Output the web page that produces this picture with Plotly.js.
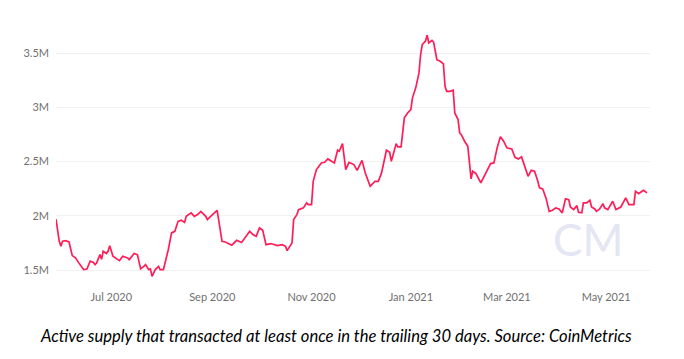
<!DOCTYPE html>
<html>
<head>
<meta charset="utf-8">
<script src="https://cdn.plot.ly/plotly-3.0.1.min.js"></script>
<style>
  html, body { margin: 0; padding: 0; background: #ffffff; }
  #chart { width: 684px; height: 359px; }
</style>
</head>
<body>
<div id="chart"></div>
<script>
// Dates (daily samples)
const dates = [
  "2020-05-28","2020-05-30","2020-05-31","2020-06-01","2020-06-03","2020-06-05","2020-06-07","2020-06-09","2020-06-11","2020-06-14",
  "2020-06-16","2020-06-18","2020-06-20","2020-06-21","2020-06-22","2020-06-24","2020-06-25","2020-06-26","2020-06-28","2020-06-29",
  "2020-06-30","2020-07-02","2020-07-05","2020-07-06","2020-07-08","2020-07-11","2020-07-12","2020-07-15","2020-07-17","2020-07-19",
  "2020-07-21","2020-07-22","2020-07-24","2020-07-25","2020-07-26","2020-07-28","2020-07-30","2020-07-31","2020-08-02","2020-08-04",
  "2020-08-05","2020-08-07","2020-08-09","2020-08-11","2020-08-13","2020-08-15","2020-08-16","2020-08-19","2020-08-21","2020-08-23",
  "2020-08-25","2020-08-28","2020-08-29","2020-08-31","2020-09-02","2020-09-04","2020-09-07","2020-09-09","2020-09-13","2020-09-16",
  "2020-09-19","2020-09-24","2020-09-26","2020-09-28","2020-09-30","2020-10-02","2020-10-04","2020-10-07","2020-10-11","2020-10-14",
  "2020-10-16","2020-10-17","2020-10-20","2020-10-21","2020-10-23","2020-10-24","2020-10-27","2020-10-29","2020-10-30","2020-11-01",
  "2020-11-02","2020-11-04","2020-11-07","2020-11-09","2020-11-11","2020-11-13","2020-11-15","2020-11-17","2020-11-18","2020-11-20",
  "2020-11-22","2020-11-24","2020-11-27","2020-11-29","2020-12-02","2020-12-04","2020-12-07","2020-12-08","2020-12-10","2020-12-12",
  "2020-12-14","2020-12-17","2020-12-19","2020-12-20","2020-12-23","2020-12-24","2020-12-26","2020-12-28","2020-12-30","2021-01-01",
  "2021-01-02","2021-01-04","2021-01-06","2021-01-07","2021-01-08","2021-01-10","2021-01-11","2021-01-12","2021-01-14","2021-01-15",
  "2021-01-17","2021-01-19","2021-01-21","2021-01-22","2021-01-23","2021-01-25","2021-01-27","2021-01-28","2021-01-30","2021-01-31",
  "2021-02-01","2021-02-03","2021-02-05","2021-02-07","2021-02-08","2021-02-10","2021-02-11","2021-02-13","2021-02-15","2021-02-17",
  "2021-02-19","2021-02-21","2021-02-23","2021-02-25","2021-02-27","2021-03-01","2021-03-04","2021-03-06","2021-03-08","2021-03-10",
  "2021-03-12","2021-03-14","2021-03-16","2021-03-18","2021-03-20","2021-03-21","2021-03-23","2021-03-25","2021-03-27","2021-03-29",
  "2021-03-31","2021-04-02","2021-04-04","2021-04-06","2021-04-08","2021-04-09","2021-04-11","2021-04-13","2021-04-14","2021-04-16",
  "2021-04-17","2021-04-19","2021-04-21","2021-04-22","2021-04-24","2021-04-25","2021-04-27","2021-04-29","2021-04-30","2021-05-02",
  "2021-05-05","2021-05-07","2021-05-10","2021-05-13","2021-05-15","2021-05-18","2021-05-19","2021-05-21","2021-05-23","2021-05-24",
  "2021-05-26"
];

// Active supply (millions of BTC)
const activeSupplyM = [
  1.970,1.766,1.720,1.766,1.772,1.760,1.634,1.613,1.567,1.505,
  1.510,1.583,1.570,1.550,1.567,1.643,1.600,1.674,1.653,1.674,
  1.726,1.628,1.597,1.588,1.628,1.613,1.597,1.653,1.643,1.512,
  1.535,1.551,1.505,1.512,1.443,1.505,1.535,1.505,1.505,1.613,
  1.690,1.843,1.858,1.950,1.960,1.940,1.996,2.028,1.996,2.012,
  2.042,1.996,1.966,1.996,2.028,2.050,1.766,1.760,1.730,1.775,
  1.755,1.858,1.828,1.812,1.889,1.867,1.735,1.745,1.726,1.735,
  1.720,1.680,1.751,1.966,2.012,2.058,2.074,2.120,2.104,2.104,
  2.319,2.427,2.488,2.494,2.525,2.503,2.488,2.605,2.595,2.666,
  2.427,2.494,2.473,2.420,2.512,2.396,2.273,2.288,2.319,2.319,
  2.396,2.605,2.586,2.503,2.666,2.636,2.636,2.903,2.949,2.980,
  3.088,3.180,3.318,3.487,3.579,3.610,3.665,3.594,3.618,3.600,
  3.440,3.425,3.401,3.195,3.148,3.148,3.158,2.949,2.888,2.765,
  2.749,2.688,2.641,2.341,2.411,2.390,2.365,2.304,2.365,2.427,
  2.482,2.488,2.627,2.730,2.688,2.627,2.617,2.540,2.525,2.544,
  2.457,2.365,2.420,2.411,2.319,2.258,2.249,2.166,2.042,2.052,
  2.074,2.064,2.028,2.157,2.150,2.082,2.058,2.095,2.033,2.028,
  2.120,2.120,2.144,2.082,2.064,2.042,2.064,2.113,2.074,2.058,
  2.135,2.058,2.082,2.166,2.104,2.104,2.227,2.205,2.227,2.236,
  2.212
];

const yTickVals = [1.5, 2, 2.5, 3, 3.5];
const yTickText = ["1.5M", "2M", "2.5M", "3M", "3.5M"];
const xTickVals = ["2020-07-01", "2020-09-01", "2020-11-01", "2021-01-01", "2021-03-01", "2021-05-01"];
const xTickText = ["Jul 2020", "Sep 2020", "Nov 2020", "Jan 2021", "Mar 2021", "May 2021"];
const captionText = "Active supply that transacted at least once in the trailing 30 days. Source: CoinMetrics";
const watermarkText = "CM";

const trace = {
  x: dates,
  y: activeSupplyM,
  type: "scatter",
  mode: "lines",
  line: { color: "#ff1d58", width: 1.7 },
  hoverinfo: "skip"
};

const tickFont = { family: "Lato, 'Open Sans', sans-serif", size: 11, color: "#707070" };

const layout = {
  width: 684,
  height: 359,
  margin: { l: 56, r: 34, t: 26, b: 78 },
  paper_bgcolor: "#ffffff",
  plot_bgcolor: "#ffffff",
  showlegend: false,
  xaxis: {
    type: "date",
    range: ["2020-05-28", "2021-05-27 22:00"],
    tickmode: "array",
    tickvals: xTickVals,
    ticktext: xTickText,
    showgrid: false,
    zeroline: false,
    showline: false,
    ticks: "",
    ticklabelstandoff: 8,
    tickfont: tickFont
  },
  yaxis: {
    range: [1.4, 3.75],
    tickmode: "array",
    tickvals: yTickVals,
    ticktext: yTickText,
    showgrid: true,
    gridcolor: "#f1f1f1",
    gridwidth: 1,
    zeroline: false,
    showline: false,
    ticks: "",
    ticklabelstandoff: 6,
    tickfont: tickFont
  },
  annotations: [
    {
      text: watermarkText,
      xref: "paper", yref: "paper",
      x: 0.8948, y: 0.166,
      xanchor: "center", yanchor: "middle",
      showarrow: false,
      font: { family: "Lato, sans-serif", size: 44, color: "#e4e6f3" }
    },
    {
      text: "<i>" + captionText + "</i>",
      xref: "paper", yref: "paper",
      x: 0.4714, y: -0.214,
      xanchor: "center", yanchor: "middle",
      showarrow: false,
      font: { family: "Lato, 'Open Sans', sans-serif", size: 16.6, color: "#000000" }
    }
  ]
};

Plotly.newPlot("chart", [trace], layout, { staticPlot: true, displayModeBar: false });
</script>
</body>
</html>
